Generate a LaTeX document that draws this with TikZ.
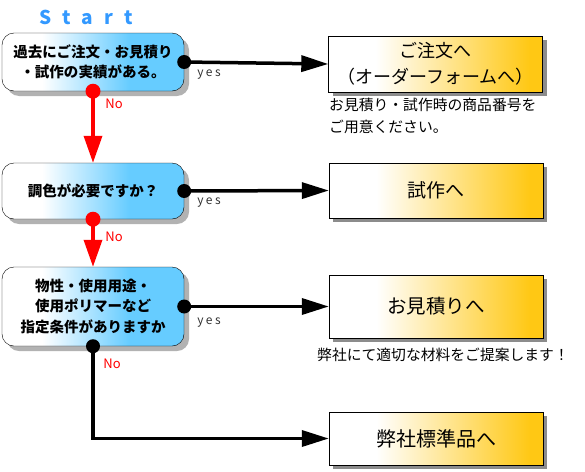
\documentclass[tikz,border=0pt]{standalone}
\usepackage{fontspec}
\setmainfont{Noto Sans CJK JP}
\usetikzlibrary{arrows.meta,shadows}
\definecolor{decblue}{HTML}{66CCFF}
\definecolor{outgold}{HTML}{FFC814}
\definecolor{startblue}{HTML}{3399FF}
\pgfdeclarehorizontalshading{decshade}{100bp}{color(0bp)=(white); color(36bp)=(white); color(60bp)=(decblue); color(100bp)=(decblue)}
\pgfdeclarehorizontalshading{outshade}{100bp}{color(0bp)=(white); color(36bp)=(white); color(72bp)=(outgold); color(100bp)=(outgold)}

\begin{document}
\begin{tikzpicture}[x=1pt, y=-1pt,
  decision/.style={rectangle, draw, rounded corners=12pt, shading=decshade, minimum width=182pt, inner sep=0pt, align=center,
    font=\fontsize{14.5}{20.5}\selectfont\bfseries, drop shadow={shadow xshift=5pt, shadow yshift=-5pt, fill=black!30, opacity=1}},
  result/.style={rectangle, draw, shading=outshade, minimum width=214pt, inner sep=0pt, align=center,
    font=\fontsize{18}{26}\selectfont, drop shadow={shadow xshift=4pt, shadow yshift=-4pt, fill=black!45, opacity=1}},
  ydot/.style={circle, fill=black, minimum size=14pt, inner sep=0pt},
  ndot/.style={circle, fill=red, minimum size=15pt, inner sep=0pt},
  yesline/.style={line width=3.5pt, -{Triangle[length=27pt, width=16pt]}},
  noline/.style={line width=3.5pt, red, -{Triangle[length=27pt, width=18pt]}},
  yeslabel/.style={font=\fontsize{12}{12}\selectfont\addfontfeatures{LetterSpace=20}, text=black!80, inner sep=0pt},
  nolabel/.style={font=\fontsize{13}{13}\selectfont, text=red, inner sep=0pt},
  note/.style={font=\fontsize{14.8}{22}\selectfont, align=left, inner sep=0pt}
]
  \useasboundingbox (0,0) rectangle (585,471);

  % Start
  \node[font=\fontsize{19}{19}\selectfont\bfseries, text=startblue] (start) at (86,17) {S\hspace{11pt}t\hspace{11pt}a\hspace{11pt}r\hspace{11pt}t};

  % Questions
  \node[decision, minimum height=58pt] (q1) at (93,62) {過去にご注文・お見積り\\・試作の実績がある。};
  \node[decision, minimum height=56pt] (q2) at (93,191) {調色が必要ですか？};
  \node[decision, minimum height=79pt] (q3) at (93,306.5) {物性・使用用途・\\使用ポリマーなど\\指定条件がありますか};

  % Results
  \node[result, minimum height=56pt] (r1) at (435.5,64) {ご注文へ\\（オーダーフォームへ）};
  \node[result, minimum height=55pt, font=\fontsize{19}{19}\selectfont] (r2) at (436,190.5) {試作へ};
  \node[result, minimum height=63pt, font=\fontsize{19.5}{19.5}\selectfont] (r3) at (436,306.5) {お見積りへ};
  \node[result, minimum height=53pt, font=\fontsize{20}{20}\selectfont] (r4) at (436,438.5) {弊社標準品へ};

  % Notes
  \node[note, anchor=west] (n1) at (329,116) {お見積り・試作時の商品番号を\\ご用意ください。};
  \node[note] (n3) at (443,355) {弊社にて適切な材料をご提案します！};

  % yes connectors
  \node[ydot] (y1) at (q1.east) {};
  \node[ydot] (y2) at (q2.east) {};
  \node[ydot] (y3) at (q3.east) {};
  \draw[yesline] (y1.center) -- (r1.west);
  \draw[yesline] (y2.center) -- (r2.west);
  \draw[yesline] (y3.center) -- (r3.west);

  % no connectors
  \node[ndot] (x1) at (q1.south) {};
  \node[ndot] (x2) at (q2.south) {};
  \node[ydot] (x3) at (q3.south) {};
  \draw[noline] (x1.center) -- (q2.north);
  \draw[noline] (x2.center) -- (q3.north);
  \draw[yesline] (x3.center) |- (r4.west);

  % Labels
  \node[yeslabel] (yes1) at (209,75) {yes};
  \node[yeslabel] (yes2) at (209,203) {yes};
  \node[yeslabel] (yes3) at (209,323) {yes};
  \node[nolabel] (no1) at (114,104) {No};
  \node[nolabel] (no2) at (114,237) {No};
  \node[nolabel] (no3) at (112,364) {No};
\end{tikzpicture}
\end{document}
